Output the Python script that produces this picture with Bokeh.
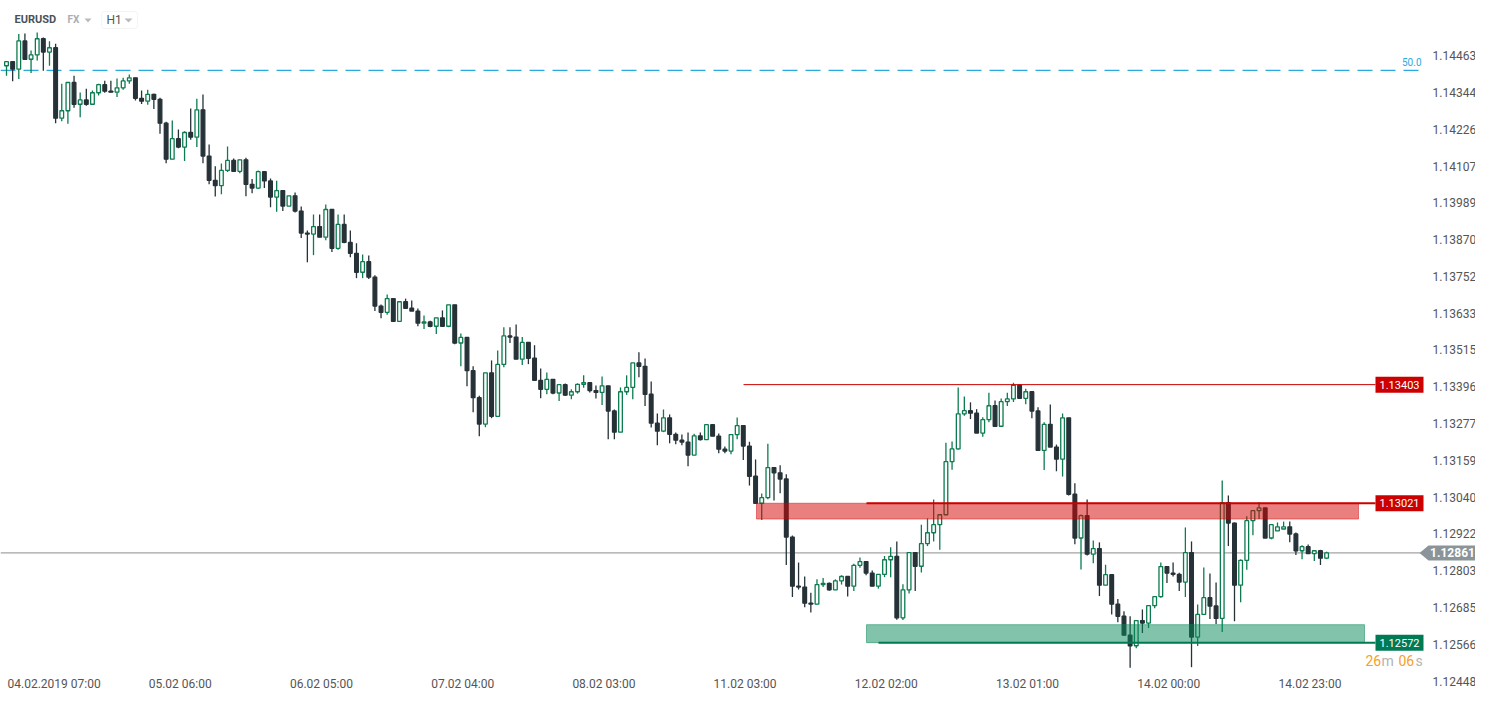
from bokeh.plotting import figure
from bokeh.models import (Range1d, Label, BoxAnnotation, PolyAnnotation, ColumnDataSource)
from bokeh.embed import file_html
from bokeh.resources import INLINE
from bokeh.core.properties import value

# ---------------- data (EURUSD, H1) ----------------
symbol = "EURUSD"
market = "FX"
interval = "H1"

opens = [
    1.14430, 1.14443, 1.14419, 1.14510, 1.14451, 1.14465, 1.14517, 1.14474, 1.14488, 1.14261, 1.14285, 1.14376,
    1.14306, 1.14320, 1.14306, 1.14343, 1.14369, 1.14348, 1.14345, 1.14359, 1.14381, 1.14391, 1.14325, 1.14316,
    1.14338, 1.14322, 1.14245, 1.14129, 1.14195, 1.14168, 1.14215, 1.14200, 1.14288, 1.14139, 1.14061, 1.14044,
    1.14093, 1.14125, 1.14090, 1.14127, 1.14048, 1.14036, 1.14089, 1.14059, 1.14007, 1.14028, 1.13978, 1.14011,
    1.13962, 1.13891, 1.13888, 1.13912, 1.13878, 1.13967, 1.13842, 1.13919, 1.13861, 1.13826, 1.13765, 1.13799,
    1.13749, 1.13656, 1.13636, 1.13680, 1.13607, 1.13670, 1.13649, 1.13640, 1.13601, 1.13605, 1.13591, 1.13618,
    1.13591, 1.13660, 1.13537, 1.13555, 1.13448, 1.13361, 1.13276, 1.13441, 1.13301, 1.13468, 1.13560, 1.13556,
    1.13485, 1.13539, 1.13488, 1.13417, 1.13388, 1.13420, 1.13376, 1.13403, 1.13369, 1.13380, 1.13404, 1.13409,
    1.13384, 1.13378, 1.13399, 1.13318, 1.13250, 1.13380, 1.13394, 1.13473, 1.13462, 1.13372, 1.13279, 1.13253,
    1.13296, 1.13243, 1.13224, 1.13218, 1.13176, 1.13238, 1.13226, 1.13274, 1.13237, 1.13195, 1.13189, 1.13242,
    1.13271, 1.13205, 1.13108, 1.13021, 1.13039, 1.13136, 1.13119, 1.13099, 1.12912, 1.12754, 1.12751, 1.12699,
    1.12696, 1.12759, 1.12763, 1.12742, 1.12771, 1.12785, 1.12754, 1.12821, 1.12833, 1.12796, 1.12754, 1.12792,
    1.12839, 1.12850, 1.12652, 1.12742, 1.12862, 1.12818, 1.12891, 1.12926, 1.12952, 1.12984, 1.13155, 1.13196,
    1.13309, 1.13319, 1.13311, 1.13247, 1.13290, 1.13335, 1.13269, 1.13348, 1.13357, 1.13401, 1.13359, 1.13380,
    1.13318, 1.13191, 1.13275, 1.13202, 1.13163, 1.13296, 1.13050, 1.12909, 1.12981, 1.12857, 1.12875, 1.12757,
    1.12791, 1.12696, 1.12657, 1.12596, 1.12562, 1.12643, 1.12635, 1.12691, 1.12720, 1.12817, 1.12796, 1.12792,
    1.12767, 1.12862, 1.12590, 1.12663, 1.12717, 1.12690, 1.12650, 1.13023, 1.12957, 1.12757, 1.12837, 1.12965,
    1.12997, 1.13006, 1.12909, 1.12932, 1.12938, 1.12945, 1.12922, 1.12868, 1.12881, 1.12859, 1.12868, 1.12844,
]

highs = [
    1.14443, 1.14440, 1.14532, 1.14534, 1.14479, 1.14537, 1.14521, 1.14509, 1.14501, 1.14372, 1.14376, 1.14398,
    1.14344, 1.14356, 1.14350, 1.14372, 1.14382, 1.14382, 1.14389, 1.14391, 1.14402, 1.14389, 1.14350, 1.14353,
    1.14340, 1.14327, 1.14250, 1.14254, 1.14225, 1.14219, 1.14292, 1.14324, 1.14337, 1.14176, 1.14106, 1.14115,
    1.14170, 1.14131, 1.14129, 1.14134, 1.14065, 1.14093, 1.14089, 1.14067, 1.14060, 1.14028, 1.14011, 1.14022,
    1.13977, 1.13899, 1.13951, 1.13951, 1.13983, 1.13967, 1.13951, 1.13951, 1.13899, 1.13858, 1.13822, 1.13819,
    1.13755, 1.13661, 1.13693, 1.13680, 1.13670, 1.13680, 1.13674, 1.13648, 1.13626, 1.13609, 1.13618, 1.13642,
    1.13660, 1.13658, 1.13568, 1.13555, 1.13462, 1.13367, 1.13441, 1.13481, 1.13513, 1.13588, 1.13588, 1.13597,
    1.13556, 1.13539, 1.13530, 1.13455, 1.13442, 1.13420, 1.13403, 1.13407, 1.13388, 1.13407, 1.13433, 1.13411,
    1.13400, 1.13429, 1.13399, 1.13323, 1.13394, 1.13433, 1.13473, 1.13507, 1.13487, 1.13413, 1.13310, 1.13323,
    1.13307, 1.13249, 1.13242, 1.13249, 1.13245, 1.13249, 1.13274, 1.13271, 1.13246, 1.13204, 1.13242, 1.13297,
    1.13271, 1.13219, 1.13162, 1.13052, 1.13213, 1.13136, 1.13143, 1.13114, 1.12917, 1.12830, 1.12785, 1.12733,
    1.12776, 1.12780, 1.12766, 1.12776, 1.12789, 1.12785, 1.12826, 1.12846, 1.12833, 1.12804, 1.12792, 1.12851,
    1.12879, 1.12898, 1.12760, 1.12862, 1.12862, 1.12952, 1.12972, 1.13033, 1.12984, 1.13216, 1.13220, 1.13394,
    1.13365, 1.13346, 1.13324, 1.13298, 1.13377, 1.13352, 1.13358, 1.13377, 1.13409, 1.13404, 1.13390, 1.13380,
    1.13330, 1.13282, 1.13339, 1.13210, 1.13310, 1.13294, 1.13085, 1.12985, 1.13033, 1.12901, 1.12895, 1.12823,
    1.12791, 1.12713, 1.12673, 1.12657, 1.12643, 1.12679, 1.12691, 1.12720, 1.12830, 1.12817, 1.12830, 1.12797,
    1.12943, 1.12898, 1.12695, 1.12814, 1.12795, 1.12766, 1.13094, 1.13046, 1.12959, 1.12840, 1.12979, 1.12997,
    1.13024, 1.13006, 1.12952, 1.12959, 1.12962, 1.12962, 1.12927, 1.12886, 1.12888, 1.12868, 1.12871, 1.12865,
]

lows = [
    1.14398, 1.14380, 1.14387, 1.14451, 1.14407, 1.14447, 1.14414, 1.14430, 1.14245, 1.14251, 1.14243, 1.14295,
    1.14264, 1.14301, 1.14306, 1.14334, 1.14343, 1.14345, 1.14329, 1.14353, 1.14372, 1.14318, 1.14307, 1.14304,
    1.14291, 1.14211, 1.14116, 1.14129, 1.14164, 1.14123, 1.14192, 1.14168, 1.14116, 1.14048, 1.14009, 1.14016,
    1.14088, 1.14090, 1.14084, 1.14010, 1.14019, 1.14034, 1.14036, 1.13974, 1.13960, 1.13962, 1.13978, 1.13957,
    1.13875, 1.13797, 1.13820, 1.13878, 1.13868, 1.13830, 1.13837, 1.13858, 1.13813, 1.13746, 1.13746, 1.13743,
    1.13640, 1.13617, 1.13628, 1.13607, 1.13607, 1.13649, 1.13640, 1.13591, 1.13582, 1.13588, 1.13566, 1.13591,
    1.13588, 1.13533, 1.13462, 1.13398, 1.13314, 1.13237, 1.13266, 1.13295, 1.13303, 1.13459, 1.13537, 1.13485,
    1.13466, 1.13469, 1.13417, 1.13359, 1.13372, 1.13372, 1.13350, 1.13366, 1.13356, 1.13374, 1.13393, 1.13378,
    1.13358, 1.13337, 1.13227, 1.13227, 1.13250, 1.13370, 1.13356, 1.13427, 1.13334, 1.13265, 1.13208, 1.13250,
    1.13214, 1.13211, 1.13208, 1.13140, 1.13177, 1.13223, 1.13232, 1.13237, 1.13182, 1.13182, 1.13179, 1.13227,
    1.13160, 1.13078, 1.13021, 1.12967, 1.13034, 1.13030, 1.13053, 1.12822, 1.12719, 1.12743, 1.12686, 1.12669,
    1.12696, 1.12751, 1.12739, 1.12742, 1.12759, 1.12721, 1.12738, 1.12813, 1.12789, 1.12754, 1.12746, 1.12783,
    1.12783, 1.12646, 1.12645, 1.12730, 1.12738, 1.12798, 1.12883, 1.12898, 1.12871, 1.12984, 1.13129, 1.13193,
    1.13303, 1.13292, 1.13247, 1.13235, 1.13282, 1.13269, 1.13274, 1.13334, 1.13347, 1.13359, 1.13340, 1.13295,
    1.13189, 1.13128, 1.13202, 1.13124, 1.13107, 1.13046, 1.12889, 1.12808, 1.12853, 1.12828, 1.12722, 1.12759,
    1.12663, 1.12638, 1.12596, 1.12491, 1.12554, 1.12603, 1.12619, 1.12683, 1.12717, 1.12764, 1.12785, 1.12738,
    1.12719, 1.12493, 1.12561, 1.12661, 1.12648, 1.12632, 1.12606, 1.12883, 1.12641, 1.12702, 1.12807, 1.12918,
    1.12970, 1.12909, 1.12905, 1.12932, 1.12938, 1.12895, 1.12854, 1.12841, 1.12859, 1.12835, 1.12822, 1.12841,
]

closes = [
    1.14443, 1.14419, 1.14510, 1.14451, 1.14465, 1.14517, 1.14474, 1.14488, 1.14261, 1.14285, 1.14376, 1.14306,
    1.14320, 1.14306, 1.14343, 1.14369, 1.14348, 1.14345, 1.14359, 1.14381, 1.14391, 1.14325, 1.14316, 1.14338,
    1.14322, 1.14245, 1.14129, 1.14195, 1.14168, 1.14215, 1.14200, 1.14288, 1.14139, 1.14061, 1.14044, 1.14093,
    1.14125, 1.14090, 1.14127, 1.14048, 1.14036, 1.14089, 1.14059, 1.14007, 1.14028, 1.13978, 1.14011, 1.13962,
    1.13891, 1.13888, 1.13912, 1.13878, 1.13967, 1.13842, 1.13919, 1.13861, 1.13826, 1.13765, 1.13799, 1.13749,
    1.13656, 1.13636, 1.13680, 1.13607, 1.13670, 1.13649, 1.13640, 1.13601, 1.13605, 1.13591, 1.13618, 1.13591,
    1.13660, 1.13537, 1.13555, 1.13448, 1.13361, 1.13276, 1.13441, 1.13301, 1.13468, 1.13560, 1.13556, 1.13485,
    1.13539, 1.13488, 1.13417, 1.13388, 1.13420, 1.13376, 1.13403, 1.13369, 1.13380, 1.13404, 1.13409, 1.13384,
    1.13378, 1.13399, 1.13318, 1.13250, 1.13380, 1.13394, 1.13473, 1.13462, 1.13372, 1.13279, 1.13253, 1.13296,
    1.13243, 1.13224, 1.13218, 1.13176, 1.13238, 1.13226, 1.13274, 1.13237, 1.13195, 1.13189, 1.13242, 1.13271,
    1.13205, 1.13108, 1.13021, 1.13039, 1.13136, 1.13119, 1.13099, 1.12912, 1.12754, 1.12751, 1.12699, 1.12696,
    1.12759, 1.12763, 1.12742, 1.12771, 1.12785, 1.12754, 1.12821, 1.12833, 1.12796, 1.12754, 1.12792, 1.12839,
    1.12850, 1.12652, 1.12742, 1.12862, 1.12818, 1.12891, 1.12926, 1.12952, 1.12984, 1.13155, 1.13196, 1.13309,
    1.13319, 1.13311, 1.13247, 1.13290, 1.13335, 1.13269, 1.13348, 1.13357, 1.13401, 1.13359, 1.13380, 1.13318,
    1.13191, 1.13275, 1.13202, 1.13163, 1.13296, 1.13050, 1.12909, 1.12981, 1.12857, 1.12875, 1.12757, 1.12791,
    1.12696, 1.12657, 1.12596, 1.12562, 1.12643, 1.12635, 1.12691, 1.12720, 1.12817, 1.12796, 1.12792, 1.12767,
    1.12862, 1.12590, 1.12663, 1.12717, 1.12690, 1.12650, 1.13023, 1.12957, 1.12757, 1.12837, 1.12965, 1.12997,
    1.13006, 1.12909, 1.12952, 1.12945, 1.12945, 1.12922, 1.12868, 1.12881, 1.12859, 1.12868, 1.12844, 1.12861,
]

# time-axis labels (candle index -> label)
time_tick_index = [0, 23, 46, 69, 92, 115, 138, 161, 184, 207]
time_tick_labels = ["04.02.2019  07:00", "05.02  06:00", "06.02  05:00", "07.02  04:00", "08.02  03:00",
                    "11.02  03:00", "12.02  02:00", "13.02  01:00", "14.02  00:00", "14.02  23:00"]

# price-axis ticks
price_ticks = [1.14463, 1.14344, 1.14226, 1.14107, 1.13989, 1.13870, 1.13752, 1.13633, 1.13515,
               1.13396, 1.13277, 1.13159, 1.13040, 1.12922, 1.12803, 1.12685, 1.12566, 1.12448]

# drawn levels
fib_level = 1.14415
fib_label = "50.0"
resistance_high = 1.13403
resistance_zone = [1.12970, 1.13021]
support_zone = [1.12572, 1.12630]
last_price = 1.12861
countdown = ["26", "m", "06", "s"]

# ---------------- styling / layout ----------------
BULL = "#0c7b4f"
BEAR = "#263238"
RED = "#cc0000"
GREEN = "#007a55"
FONT = "Roboto"
W, H = 1475, 690
PX_PER_BAR = 6.14          # horizontal spacing of the hourly candles
FIRST_BAR_PX = 6           # screen x of the first candle
PX_PER_PRICE = 31050.0     # vertical scale (pixels per 1.0 of price)
TOP_PRICE = 1.14463 + 55 / PX_PER_PRICE


def bar_at(px):
    """candle-index coordinate of a horizontal screen position"""
    return (px - FIRST_BAR_PX) / PX_PER_BAR


def screen_y(price):
    """screen y (from the bottom of the frame) of a price"""
    return H - (TOP_PRICE - price) * PX_PER_PRICE


n = len(closes)
xs = list(range(n))
body_top = [max(o, c) for o, c in zip(opens, closes)]
body_bot = [min(o, c) for o, c in zip(opens, closes)]
hi = [max(h, t) for h, t in zip(highs, body_top)]
lo = [min(l, b) for l, b in zip(lows, body_bot)]
bull = [c >= o for o, c in zip(opens, closes)]
line_col = [BULL if b else BEAR for b in bull]
fill_col = ["#ffffff" if b else BEAR for b in bull]

src = ColumnDataSource(dict(x=xs, hi=hi, lo=lo, top=body_top, bot=body_bot,
                            lc=line_col, fc=fill_col))

p = figure(width=W, height=H,
           x_range=Range1d(bar_at(0), bar_at(W)),
           y_range=Range1d(TOP_PRICE - H / PX_PER_PRICE, TOP_PRICE),
           x_axis_location=None, y_axis_location=None,
           toolbar_location=None, output_backend="svg", min_border=0)
p.outline_line_color = None
p.background_fill_color = "white"
p.border_fill_color = "white"
p.xgrid.visible = False
p.ygrid.visible = False

# background lines
p.segment(x0=[bar_at(0)], y0=[last_price], x1=[bar_at(1420)], y1=[last_price],
          line_color="#8c8c8c", line_width=1)
p.segment(x0=[bar_at(0)], y0=[fib_level], x1=[bar_at(1423)], y1=[fib_level],
          line_color="#29abe2", line_width=1.3, line_dash="15 8")

# candles
p.segment(x0="x", y0="lo", x1="x", y1="hi", line_color="lc", line_width=1.3, source=src)
p.vbar(x="x", width=0.6, top="top", bottom="bot", fill_color="fc", line_color="lc",
       line_width=1.3, source=src)

# zones (drawn over the candles, semi-transparent)
p.quad(left=[bar_at(756)], right=[bar_at(1358)], bottom=[resistance_zone[0]], top=[resistance_zone[1]],
       fill_color="#d50000", fill_alpha=0.5, line_color="#d50000", line_alpha=0.45, line_width=1)
p.quad(left=[bar_at(866)], right=[bar_at(1364)], bottom=[support_zone[0]], top=[support_zone[1]],
       fill_color="#05875a", fill_alpha=0.5, line_color="#05875a", line_alpha=0.5, line_width=1)

# level lines
TAG_L, TAG_R = 1375, 1423
p.segment(x0=[bar_at(743)], y0=[resistance_high], x1=[bar_at(TAG_L)], y1=[resistance_high],
          line_color=RED, line_width=1)
p.segment(x0=[bar_at(866)], y0=[resistance_zone[1]], x1=[bar_at(TAG_L)], y1=[resistance_zone[1]],
          line_color=RED, line_width=2)
p.segment(x0=[bar_at(878)], y0=[support_zone[0]], x1=[bar_at(TAG_L)], y1=[support_zone[0]],
          line_color=GREEN, line_width=2)

# level tags
tag_prices = [resistance_high, resistance_zone[1], support_zone[0]]
tag_colors = [RED, RED, GREEN]
tag_x = bar_at((TAG_L + TAG_R) / 2)
p.rect(x=[tag_x] * 3, y=tag_prices, width=(TAG_R - TAG_L) / PX_PER_BAR, height=16,
       height_units="screen", fill_color=tag_colors, line_color=None)
p.text(x=[tag_x] * 3, y=tag_prices, text=["%.5f" % v for v in tag_prices],
       text_align="center", text_baseline="middle", text_color="white",
       text_font=value(FONT), text_font_size="11px")

# price scale (right side)
p.text(x=[bar_at(1432)] * len(price_ticks), y=price_ticks, text=["%.5f" % v for v in price_ticks],
       text_align="left", text_baseline="middle", text_color="#555555",
       text_font=value(FONT), text_font_size="12px")

# current price tag (annotation polygon + label on top of it)
ty = screen_y(last_price)
p.add_layout(PolyAnnotation(xs=[1419, 1428, 1475, 1475, 1428], ys=[ty, ty + 7.5, ty + 7.5, ty - 7.5, ty - 7.5],
                            xs_units="screen", ys_units="screen", fill_color="#8a9499",
                            fill_alpha=1.0, line_color=None))
p.add_layout(Label(x=1452, y=ty, x_units="screen", y_units="screen", text="%.5f" % last_price,
                   text_align="center", text_baseline="middle", text_color="white",
                   text_font=FONT, text_font_size="12px", text_font_style="bold"))

# fib label
p.add_layout(Label(x=1421, y=H - 61, x_units="screen", y_units="screen",
                   text=fib_label, text_align="right", text_baseline="middle",
                   text_color="#29abe2", text_font=FONT, text_font_size="10px"))

# time labels
for t, lab in zip(time_tick_index, time_tick_labels):
    p.add_layout(Label(x=t, x_units="data", y=7, y_units="screen", x_offset=1,
                       text=lab, text_align="left", text_baseline="middle",
                       text_color="#555555", text_font=FONT, text_font_size="12px"))

# countdown
cd_x = [1365, 1381, 1398, 1415]
cd_col = ["#f5a027", "#b3b3b3", "#f5a027", "#b3b3b3"]
for x0, t, c in zip(cd_x, countdown, cd_col):
    p.add_layout(Label(x=x0, y=H - 660, x_units="screen", y_units="screen", text=t,
                       text_align="left", text_baseline="middle", text_color=c,
                       text_font=FONT, text_font_size="14px"))

# header
p.add_layout(Label(x=14, y=H - 19, x_units="screen", y_units="screen", text=symbol,
                   text_align="left", text_baseline="middle", text_color="#4a5258",
                   text_font=FONT, text_font_size="11px", text_font_style="bold"))
p.add_layout(Label(x=67, y=H - 19, x_units="screen", y_units="screen", text=market,
                   text_align="left", text_baseline="middle", text_color="#a9aeb3",
                   text_font=FONT, text_font_size="10px", text_font_style="bold"))
p.add_layout(PolyAnnotation(xs=[84, 91, 87.5], ys=[H - 18, H - 18, H - 22], xs_units="screen",
                            ys_units="screen", fill_color="#b8bcc0", fill_alpha=1.0, line_color=None))
p.add_layout(BoxAnnotation(left=101, right=137, bottom=H - 28, top=H - 11, left_units="screen",
                           right_units="screen", bottom_units="screen", top_units="screen",
                           fill_color="white", fill_alpha=1.0, line_color="#dcdcdc",
                           line_width=1, border_radius=3))
p.add_layout(Label(x=106, y=H - 19, x_units="screen", y_units="screen", text=interval,
                   text_align="left", text_baseline="middle", text_color="#555555",
                   text_font=FONT, text_font_size="12px"))
p.add_layout(PolyAnnotation(xs=[124, 132, 128], ys=[H - 18, H - 18, H - 22], xs_units="screen",
                            ys_units="screen", fill_color="#b8bcc0", fill_alpha=1.0, line_color=None))

open("out.html", "w").write(file_html(p, INLINE))
